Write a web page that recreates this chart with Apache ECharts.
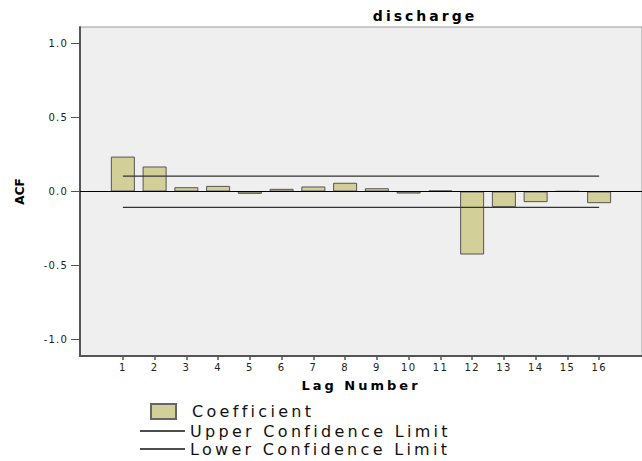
<!DOCTYPE html>
<html>
<head>
<meta charset="utf-8">
<script src="https://cdn.jsdelivr.net/npm/echarts@6/dist/echarts.min.js"></script>
<style>
html,body{margin:0;padding:0;background:#fff;}
#chart{width:642px;height:461px;}
</style>
</head>
<body>
<div id="chart"></div>
<script>
// ---- data ----
const lags = [1,2,3,4,5,6,7,8,9,10,11,12,13,14,15,16];
const coefficient = [0.236,0.169,0.029,0.038,-0.016,0.018,0.034,0.059,0.022,-0.014,0.007,-0.426,-0.106,-0.072,0.002,-0.079];
const upperLimit = [0.104,0.104,0.104,0.104,0.104,0.104,0.104,0.104,0.104,0.104,0.104,0.104,0.104,0.104,0.104,0.104];
const lowerLimit = [-0.107,-0.107,-0.107,-0.107,-0.107,-0.107,-0.107,-0.107,-0.107,-0.107,-0.107,-0.107,-0.107,-0.107,-0.107,-0.107];
const yTicks = [-1.0,-0.5,0.0,0.5,1.0];
const titleText = 'discharge';
const xName = 'Lag Number';
const yName = 'ACF';
const seriesNames = ['Coefficient','Upper Confidence Limit','Lower Confidence Limit'];

const FONT = 'DejaVu Sans';
const chart = echarts.init(document.getElementById('chart'), null, {renderer:'svg'});
const pair = (xs, ys) => xs.map((x,i)=>[x, ys[i]]);

chart.setOption({
  animation:false,
  backgroundColor:'#ffffff',
  title:{
    text:titleText, left:425, top:9, padding:0, textAlign:'center',
    textStyle:{fontFamily:FONT, fontSize:14, fontWeight:'bold', color:'#000'}
  },
  grid:{
    left:80, right:0, top:27, bottom:105, show:true,
    backgroundColor:'#efefef', borderColor:'#9a9a9a', borderWidth:1
  },
  xAxis:{
    type:'value', min:-0.35, max:17.35,
    name:xName, nameLocation:'middle', nameGap:23,
    nameTextStyle:{fontFamily:FONT, fontSize:13, fontWeight:'bold', color:'#000'},
    axisLine:{show:true, onZero:false, lineStyle:{color:'#555', width:2}},
    axisTick:{show:true, length:4, customValues:lags, lineStyle:{color:'#555', width:1.5}},
    axisLabel:{customValues:lags, margin:6, fontFamily:FONT, fontSize:10, color:'#222'},
    splitLine:{show:false}
  },
  yAxis:{
    type:'value', min:-1.112, max:1.112,
    name:yName, nameLocation:'middle', nameGap:54, nameRotate:90,
    nameTextStyle:{fontFamily:FONT, fontSize:12, fontWeight:'bold', color:'#000'},
    axisLine:{show:true, onZero:false, lineStyle:{color:'#555', width:2}},
    axisTick:{show:true, length:9, customValues:yTicks, lineStyle:{color:'#555', width:1}},
    axisLabel:{customValues:yTicks, margin:12, fontFamily:FONT, fontSize:10, color:'#222',
      formatter:v=>v.toFixed(1)},
    splitLine:{show:false}
  },
  legend:[
    {data:[{name:seriesNames[0], icon:'rect'}], left:150, top:403, padding:0, itemWidth:25, itemHeight:15,
     itemStyle:{borderColor:'#666', borderWidth:2},
     textStyle:{fontFamily:FONT, fontSize:16, color:'#111', padding:[0,0,0,11]}},
    {data:[{name:seriesNames[1], icon:'rect'}], left:140, top:423, padding:0, itemWidth:45, itemHeight:1.6,
     itemStyle:{color:'#111', borderWidth:0},
     textStyle:{fontFamily:FONT, fontSize:16, color:'#111'}},
    {data:[{name:seriesNames[2], icon:'rect'}], left:140, top:441, padding:0, itemWidth:45, itemHeight:1.6,
     itemStyle:{color:'#111', borderWidth:0},
     textStyle:{fontFamily:FONT, fontSize:16, color:'#111'}}
  ],
  series:[
    {
      name:seriesNames[0], type:'bar', barWidth:24,
      data:pair(lags, coefficient),
      itemStyle:{color:'#d3cf98', borderColor:'#555', borderWidth:1},
      markLine:{silent:true, symbol:'none', label:{show:false},
        lineStyle:{color:'#000', width:1, type:'solid'},
        data:[{yAxis:0}]}
    },
    {
      name:seriesNames[1], type:'line', symbol:'none',
      data:pair(lags, upperLimit),
      lineStyle:{color:'#333', width:1.2}, itemStyle:{color:'#333'}
    },
    {
      name:seriesNames[2], type:'line', symbol:'none',
      data:pair(lags, lowerLimit),
      lineStyle:{color:'#333', width:1.2}, itemStyle:{color:'#333'}
    }
  ]
});

// widen glyph spacing to match the stretched look of the reference text
function spaceText(){
  const map = {'16':'3.3px','14':'3px','13':'3px','10':'1.2px'};
  document.querySelectorAll('#chart text').forEach(t=>{
    const fs = parseFloat(getComputedStyle(t).fontSize);
    const ls = map[String(Math.round(fs))];
    if (ls) t.setAttribute('letter-spacing', ls);
  });
}
spaceText();
chart.on('finished', spaceText);
</script>
</body>
</html>
